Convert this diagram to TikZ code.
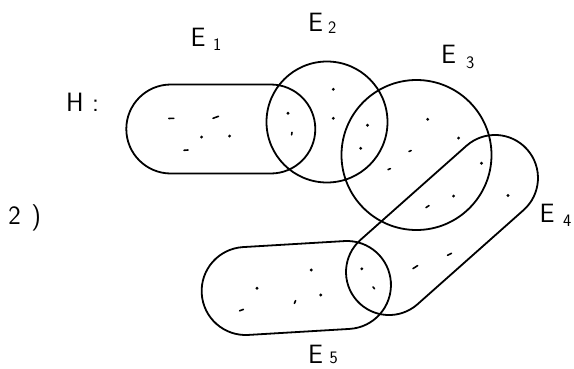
\documentclass[tikz,border=0pt]{standalone}
\usepackage{fontspec}
\begin{document}
\begin{tikzpicture}[x=1pt,y=-1pt,
  setline/.style={draw=black, line width=1.8pt},
  stadium/.style={setline, rectangle, rounded corners=#1, inner sep=0pt, outer sep=0pt},
  ring/.style={setline, circle, inner sep=0pt, outer sep=0pt},
  lab/.style={inner sep=0pt, outer sep=0pt, anchor=base west, font=\sffamily\fontsize{26.5}{28}\selectfont},
  pt/.style={fill=black},
  dsh/.style={draw=black, line width=1.6pt, line cap=round}
]
\useasboundingbox (0,0) rectangle (574,368);
\newcommand\elab[3]{\makebox[#1pt][l]{E}\raisebox{-#2pt}{\fontsize{17.5}{18}\selectfont #3}}

% sets
\node[stadium=44.5pt, minimum width=189pt, minimum height=89pt] (e1) at (220.8,129) {};
\node[ring, minimum size=121pt] (e2) at (327,122) {};
\node[ring, minimum size=150pt] (e3) at (416.5,155) {};
\node[stadium=43pt, minimum width=227.7pt, minimum height=86pt, rotate=41.6] (e4) at (442,225) {};
\node[stadium=44pt, minimum width=189.5pt, minimum height=88pt, rotate=3.4] (e5) at (296.3,288) {};

% labels
\node[lab] (h) at (66.2,111) {\makebox[26pt][l]{H}:};
\node[lab] (two) at (8.5,224.3) {\makebox[23pt][l]{2})};
\node[lab] (l1) at (190.7,46.7) {\elab{22.3}{4}{1}};
\node[lab] (l2) at (308,31.7) {\elab{20}{1.6}{2}};
\node[lab] (l3) at (441,63.3) {\elab{25}{5}{3}};
\node[lab] (l4) at (539.7,222.8) {\elab{23.3}{3.4}{4}};
\node[lab] (l5) at (308,363.3) {\elab{21.7}{0}{5}};

% points of E1
\draw[dsh] (168.8,118.5) -- (173.8,118.3);
\draw[dsh] (213,118.3) -- (218.5,116.3);
\fill[pt] (201.6,137) circle[radius=1.6pt];
\fill[pt] (229.6,136) circle[radius=1.6pt];
\draw[dsh] (184,150.3) -- (188,150);
% E1 and E2
\fill[pt] (288,113.3) circle[radius=1.6pt];
\draw[dsh] (292,132.3) -- (291.6,134.8);
% E2
\fill[pt] (333.3,89.3) circle[radius=1.6pt];
\fill[pt] (333.3,118.3) circle[radius=1.6pt];
% E2 and E3
\fill[pt] (367.5,125.3) circle[radius=1.6pt];
\fill[pt] (360.7,148.3) circle[radius=1.6pt];
% E3
\fill[pt] (427.7,119.3) circle[radius=1.6pt];
\fill[pt] (458.6,138) circle[radius=1.6pt];
\draw[dsh] (409,151.5) -- (411.2,150.5);
\draw[dsh] (388,169.6) -- (390.4,168.6);
% E3 and E4
\fill[pt] (481.5,163.3) circle[radius=1.6pt];
\fill[pt] (453.6,196) circle[radius=1.6pt];
\draw[dsh] (426,207.6) -- (429,205.6);
% E4
\fill[pt] (508,195.5) circle[radius=1.6pt];
\draw[dsh] (447.5,255.3) -- (451.5,253.3);
\draw[dsh] (413,268.6) -- (417.6,265.6);
% E4 and E5
\fill[pt] (361.8,268.8) circle[radius=1.6pt];
\draw[dsh] (373,287) -- (374.6,288.8);
% E5
\fill[pt] (311.2,270) circle[radius=1.6pt];
\fill[pt] (257,288.3) circle[radius=1.6pt];
\fill[pt] (320.8,295) circle[radius=1.6pt];
\draw[dsh] (294.4,303.4) -- (295.6,300.6);
\draw[dsh] (239.6,310.8) -- (243.4,309.4);
\end{tikzpicture}
\end{document}
